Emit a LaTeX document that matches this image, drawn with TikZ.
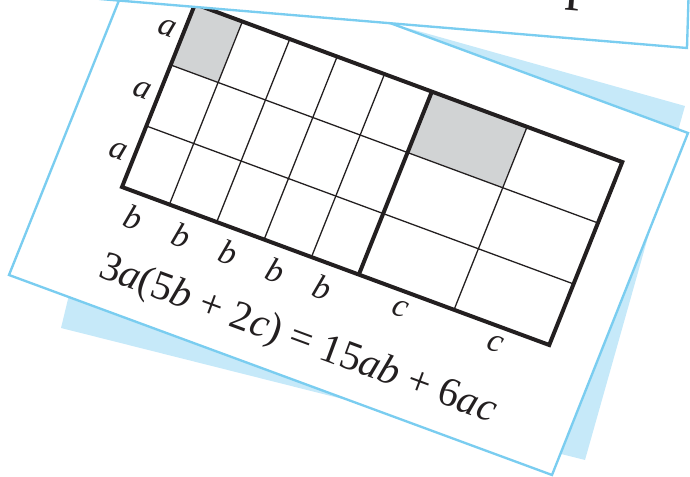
\documentclass[tikz,border=0pt]{standalone}
\usepackage{fontspec}
\setmainfont{Liberation Serif}
\definecolor{cardblue}{RGB}{122,205,240}
\definecolor{shadeblue}{RGB}{198,233,249}
\definecolor{cellgray}{RGB}{209,211,212}
\definecolor{ink}{RGB}{35,31,32}
\tikzset{
  card/.style={draw=cardblue, line width=2pt, fill=white, line join=miter},
  thickline/.style={draw=ink, line width=3.4pt, line join=miter},
  thinline/.style={draw=ink, line width=1.1pt},
  side/.style={font=\fontsize{29}{29}\selectfont\itshape, text=ink, rotate=-20.3, inner sep=0pt},
}
\begin{document}
\begin{tikzpicture}[x=0.03cm, y=0.03cm]
\useasboundingbox (0,0) rectangle (690,477);
\clip (0,0) rectangle (690,477);
% card lying underneath
\fill[shadeblue] (151,521) -- (685,371) -- (585,17) -- (61,149) -- cycle;
% main card
\draw[card] (146,544) -- (688,344) -- (552,2) -- (9,202) -- cycle;
% grid on the main card (a = 65.7, b = 50.5, c = 101.5)
\begin{scope}[shift={(122,290)}, x={(0.02813cm,-0.01041cm)}, y={(0.01112cm,0.02787cm)}]
  % shaded cells ab and ac
  \fill[cellgray] (0,131.4) -- (50.5,131.4) -- (50.5,197) -- (0,197) -- cycle;
  \fill[cellgray] (252.5,131.4) -- (354,131.4) -- (354,197) -- (252.5,197) -- cycle;
  \foreach \u in {50.5,101,151.5,202,354}
    \draw[thinline] (\u,0) -- (\u,197);
  \foreach \v in {65.7,131.4}
    \draw[thinline] (0,\v) -- (455.5,\v);
  \draw[thickline] (252.5,0) -- (252.5,197);
  \draw[thickline] (0,0) -- (455.5,0) -- (455.5,197) -- (0,197) -- cycle;
  % side labels
  \foreach \v [count=\i] in {32.8,98.5,164.2}
    \node[side] (a\i) at (-17,\v) {a};
  \foreach \u [count=\i] in {22,73,123,174,224}
    \node[side] (b\i) at (\u,-25) {b};
  \foreach \u [count=\i] in {304,405}
    \node[side] (c\i) at (\u,-18) {c};
  % identity under the grid
  \node[font=\fontsize{35}{35}\selectfont, text=ink, rotate=-20.3] (eq) at (220,-83)
    {3\textit{a}(5\textit{b} + 2\textit{c}) = 15\textit{ab} + 6\textit{ac}};
\end{scope}
% card on top
\draw[card] (90,577) -- (690,529) -- (687,429) -- (100,478) -- cycle;
\node[font=\fontsize{50}{50}\selectfont, text=ink, rotate=-4.7, anchor=base west, inner sep=0pt] (p) at (565,479.5) {p};
\end{tikzpicture}
\end{document}
